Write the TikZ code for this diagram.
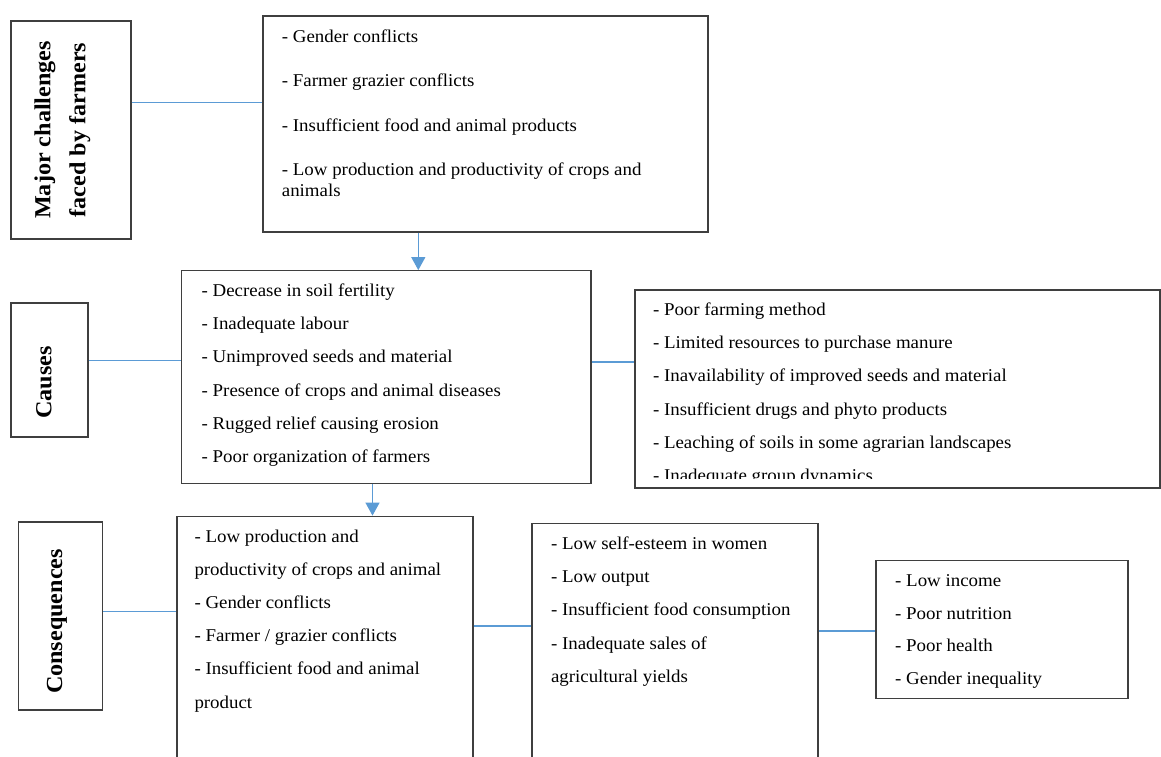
\documentclass[tikz,border=0pt]{standalone}
\usepackage{fontspec}
\setmainfont{Liberation Serif}[FakeStretch=1.05]
\usetikzlibrary{arrows.meta}

\definecolor{linkblue}{HTML}{5B9BD5}
\definecolor{framegray}{HTML}{3F3F3F}

\begin{document}
\begin{tikzpicture}[
    x=1pt, y=-1pt,
    labelbox/.style={
        draw=framegray,
        line width=1.3pt,
        inner sep=0pt
    },
    listbox/.style={
        draw=framegray,
        line width=1.3pt,
        inner sep=0pt
    },
    labeltext/.style={
        rotate=90,
        inner sep=0pt,
        align=center,
        font=\fontsize{23}{35}\selectfont\bfseries
    },
    listtext/.style={
        anchor=north west,
        inner sep=0pt,
        align=left,
        font=\fontsize{18}{33.2}\selectfont
    },
    link/.style={draw=linkblue, line width=1.2pt},
    flow/.style={link, -{Triangle[width=14pt, length=13pt]}}
]

\useasboundingbox (0,0) rectangle (1161,756);
\fill[white] (0,0) rectangle (1161,756);
\clip (0,0) rectangle (1161,756);

\node[labelbox, minimum width=120pt, minimum height=218pt] (chalBox) at (71,130) {};
\node[labeltext] (chalLabel) at (62.5,130) {Major challenges\\faced by farmers};

\node[listbox, minimum width=445pt, minimum height=216pt] (chalList) at (485.5,124) {};
\node[listtext, font=\fontsize{18}{21}\selectfont] (chalItems) at (281.7,29.3) {- Gender conflicts\\[23.6pt]
    - Farmer grazier conflicts\\[23.6pt]
    - Insufficient food and animal products\\[23.6pt]
    - Low production and productivity of crops and\\
    animals};

\node[labelbox, minimum width=77pt, minimum height=134pt] (causeBox) at (49.5,370) {};
\node[labeltext] (causeLabel) at (44,382.5) {Causes};

\node[listbox, minimum width=409.5pt, minimum height=212.5pt] (causeList) at (386.25,377) {};
\node[listtext] (causeItems) at (201.5,283.6) {- Decrease in soil fertility\\
    - Inadequate labour\\
    - Unimproved seeds and material\\
    - Presence of crops and animal diseases\\
    - Rugged relief causing erosion\\
    - Poor organization of farmers};

\node[listbox, minimum width=525pt, minimum height=198pt] (reasonList) at (897.5,389) {};
\begin{scope}
    \clip (reasonList.north west) rectangle ([yshift=10pt]reasonList.south east);
    \node[listtext] (reasonItems) at (652.8,302.6) {- Poor farming method\\
        - Limited resources to purchase manure\\
        - Inavailability of improved seeds and material\\
        - Insufficient drugs and phyto products\\
        - Leaching of soils in some agrarian landscapes\\
        - Inadequate group dynamics};
\end{scope}

\node[labelbox, minimum width=84pt, minimum height=188pt] (consBox) at (60.4,616) {};
\node[labeltext] (consLabel) at (57,621.5) {Consequences};

\node[listbox, minimum width=296pt, minimum height=263.5pt] (consList) at (325,648) {};
\node[listtext] (consItems) at (194.3,529.3) {- Low production and\\
    productivity of crops and animal\\
    - Gender conflicts\\
    - Farmer / grazier conflicts\\
    - Insufficient food and animal\\
    product};

\node[listbox, minimum width=286pt, minimum height=256.7pt] (effList) at (675,651.7) {};
\node[listtext] (effItems) at (550.8,536.6) {- Low self-esteem in women\\
    - Low output\\
    - Insufficient food consumption\\
    - Inadequate sales of\\
    agricultural yields};

\node[listbox, minimum width=252pt, minimum height=137.6pt] (outList) at (1002,629.5) {};
\node[listtext, font=\fontsize{18}{32.5}\selectfont] (outItems) at (895,574.6) {- Low income\\
    - Poor nutrition\\
    - Poor health\\
    - Gender inequality};

\draw[link] ([yshift=27.7pt]chalBox.east) coordinate (l1) -- (l1 -| chalList.west);
\draw[flow] ([xshift=-67.2pt]chalList.south) coordinate (a1) -- (a1 |- causeList.north);
\draw[link] ([yshift=9.3pt]causeBox.east) coordinate (l2) -- (l2 -| causeList.west);
\draw[link] ([yshift=15pt]causeList.east) coordinate (l3) -- (l3 -| reasonList.west);
\draw[flow] ([xshift=-13.75pt]causeList.south) coordinate (a2) -- (a2 |- consList.north);
\draw[link] ([yshift=4.3pt]consBox.east) coordinate (l4) -- (l4 -| consList.west);
\draw[link] ([yshift=22pt]consList.east) coordinate (l5) -- (l5 -| effList.west);
\draw[link] ([yshift=20.7pt]effList.east) coordinate (l6) -- (l6 -| outList.west);

\end{tikzpicture}
\end{document}
